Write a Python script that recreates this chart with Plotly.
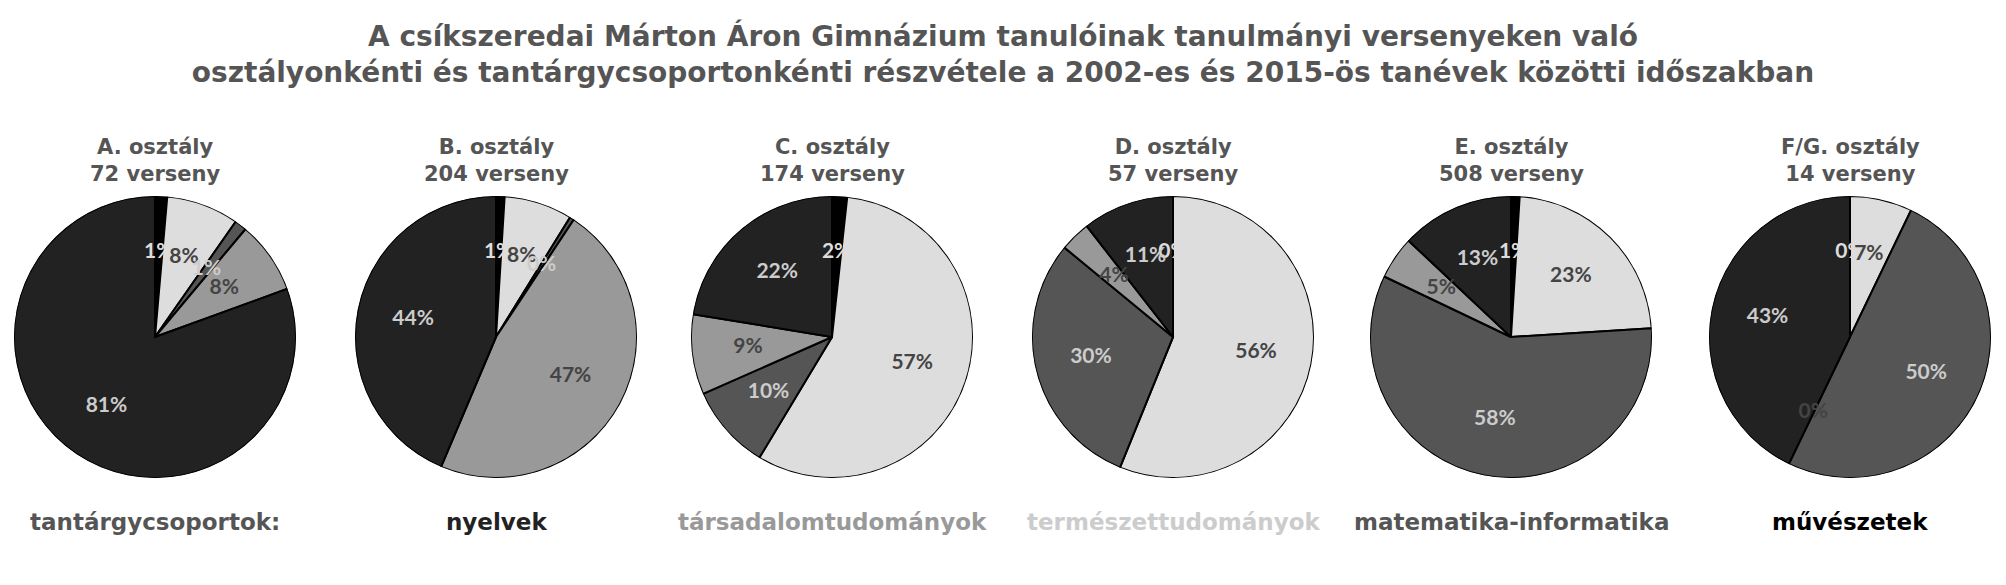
import numpy as np
import plotly.graph_objects as go

title_text = ("A csíkszeredai Márton Áron Gimnázium tanulóinak tanulmányi versenyeken való<br>"
              "osztályonkénti és tantárgycsoportonkénti részvétele a 2002-es és 2015-ös tanévek közötti időszakban")

categories = ["művészetek", "természettudományok", "matematika-informatika",
              "társadalomtudományok", "nyelvek"]
slice_colors = ["#000000", "#dddddd", "#555555", "#999999", "#222222"]
text_colors = ["#dddddd", "#444444", "#cccccc", "#444444", "#cccccc"]

classes = ["A. osztály", "B. osztály", "C. osztály", "D. osztály", "E. osztály", "F/G. osztály"]
totals = [72, 204, 174, 57, 508, 14]

vals_A = [1, 6, 1, 6, 58]
vals_B = [2, 16, 1, 96, 89]
vals_C = [3, 99, 17, 16, 39]
vals_D = [0, 32, 17, 2, 6]
vals_E = [5, 117, 295, 25, 66]
vals_FG = [0, 1, 7, 0, 6]
all_vals = [vals_A, vals_B, vals_C, vals_D, vals_E, vals_FG]

legend_header = "tantárgycsoportok:"
legend_order = ["nyelvek", "társadalomtudományok", "természettudományok",
                "matematika-informatika", "művészetek"]
legend_colors = ["#222222", "#999999", "#cccccc", "#555555", "#000000"]

FONT = "DejaVu Sans"
LABEL_FONT = "Lato"
W, H = 2006, 585
centers_x = [155, 496, 832, 1173, 1511, 1850]
cy = 248   # from bottom
R = 141

fig = go.Figure()
layout_polars = {}
for i, vals in enumerate(all_vals):
    cx = centers_x[i]
    v = np.array(vals, dtype=float)
    tot = v.sum()
    widths = v / tot * 360.0
    ends = np.cumsum(widths)
    mids = ends - widths / 2.0
    pct = [f"{round(x / tot * 100):.0f}%" for x in v]
    sub = "polar" if i == 0 else f"polar{i + 1}"
    fig.add_trace(go.Barpolar(
        r=[1] * len(v), theta=mids, width=widths, base=0,
        marker=dict(color=slice_colors, line=dict(color="#000000", width=2)),
        customdata=categories, hovertemplate="%{customdata}<extra></extra>",
        subplot=sub, showlegend=False,
    ))
    fig.add_trace(go.Scatterpolar(
        r=[0.6] * len(v), theta=mids, mode="text", text=pct,
        textfont=dict(family=LABEL_FONT, size=21, color=text_colors, weight="bold"),
        subplot=sub, showlegend=False, hoverinfo="skip",
    ))
    layout_polars[sub] = dict(
        domain=dict(x=[(cx - R) / W, (cx + R) / W], y=[(cy - R) / H, (cy + R) / H]),
        bgcolor="rgba(0,0,0,0)", bargap=0, hole=0,
        radialaxis=dict(range=[0, 1], visible=False),
        angularaxis=dict(direction="clockwise", rotation=90, visible=False,
                         showgrid=False, showline=False, showticklabels=False, ticks=""),
    )

ann = []
for i in range(6):
    ann.append(dict(text=f"{classes[i]}<br>{totals[i]} verseny", x=centers_x[i] / W, y=1 - 160 / H,
                    xref="paper", yref="paper", xanchor="center", yanchor="middle", showarrow=False,
                    font=dict(family=FONT, size=21, color="#555555", weight="bold")))
ann.append(dict(text=legend_header, x=centers_x[0] / W, y=1 - 522 / H, xref="paper", yref="paper",
                xanchor="center", yanchor="middle", showarrow=False,
                font=dict(family=FONT, size=23, color="#555555", weight="bold")))
for j, name in enumerate(legend_order):
    ann.append(dict(text=name, x=centers_x[j + 1] / W, y=1 - 522 / H, xref="paper", yref="paper",
                    xanchor="center", yanchor="middle", showarrow=False,
                    font=dict(family=FONT, size=23, color=legend_colors[j], weight="bold")))

fig.update_layout(
    width=W, height=H, margin=dict(l=0, r=0, t=0, b=0),
    paper_bgcolor="white", plot_bgcolor="white",
    title=dict(text=title_text, x=0.5, xanchor="center", y=1 - 46 / H, yanchor="middle",
               font=dict(family=FONT, size=28, color="#555555", weight="bold")),
    annotations=ann,
    **layout_polars,
)

fig.write_html("out.html", config={"displayModeBar": False},
               post_script="document.body.style.margin='0';")
